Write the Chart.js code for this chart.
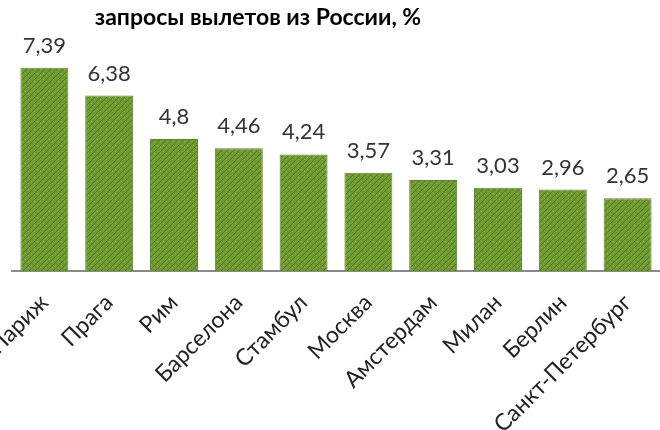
<!DOCTYPE html>
<html><head><meta charset="utf-8">
<script src="https://cdn.jsdelivr.net/npm/chart.js@4.4.0/dist/chart.umd.min.js"></script>
<style>html,body{margin:0;padding:0;background:#fff;overflow:hidden}#wrap{width:660px;height:430px}</style>
</head><body><div id="wrap"><canvas id="c" width="660" height="430"></canvas></div>
<script>
const categories = ["Париж","Прага","Рим","Барселона","Стамбул","Москва","Амстердам","Милан","Берлин","Санкт-Петербург"];
const values = [7.39,6.38,4.8,4.46,4.24,3.57,3.31,3.03,2.96,2.65];
const valueLabels = ["7,39","6,38","4,8","4,46","4,24","3,57","3,31","3,03","2,96","2,65"];
const titleText = "запросы вылетов из России, %";

function makePattern(){
  const p = document.createElement('canvas'); p.width = 6; p.height = 6;
  const g = p.getContext('2d');
  g.fillStyle = '#6f9b30'; g.fillRect(0,0,6,6);
  g.strokeStyle = '#527a20'; g.lineWidth = 1;
  g.beginPath(); g.moveTo(0,6); g.lineTo(6,0); g.stroke();
  g.fillStyle = '#88b245'; g.fillRect(1,1,1,1); g.fillRect(4,3,1,1);
  return document.getElementById('c').getContext('2d').createPattern(p,'repeat');
}

const overlay = {
  id:'overlay',
  afterDatasetsDraw(chart){
    const ctx = chart.ctx; const meta = chart.getDatasetMeta(0);
    ctx.save();
    ctx.fillStyle = '#333'; ctx.font = '22px Lato'; ctx.textAlign = 'center'; ctx.textBaseline = 'alphabetic';
    meta.data.forEach((b,i)=>{ ctx.fillText(valueLabels[i], b.x, b.y - 15); });
    ctx.fillStyle = '#000'; ctx.font = 'bold 23px Lato';
    ctx.fillText(titleText, 258, 25);
    ctx.restore();
  }
};

new Chart(document.getElementById('c'), {
  type:'bar',
  data:{ labels:categories, datasets:[{ data:values, backgroundColor:makePattern(), borderColor:'#5d8526', borderWidth:1, barPercentage:0.74, categoryPercentage:1 }]},
  options:{
    responsive:false, animation:false,
    layout:{ padding:{ top:51, left:12, right:0, bottom:0 } },
    plugins:{ legend:{display:false}, title:{display:false}, tooltip:{enabled:false} },
    scales:{
      x:{
        grid:{display:false}, border:{display:true, color:'#8a8a8a', width:2},
        ticks:{ color:'#222', font:{family:'Lato', size:23}, maxRotation:45, minRotation:45, padding:10 },
        afterFit(s){ s.height = 159; s.paddingLeft = 0; s.paddingRight = 0; }
      },
      y:{ display:false, min:0, max:8 }
    }
  },
  plugins:[overlay]
});
</script></body></html>
